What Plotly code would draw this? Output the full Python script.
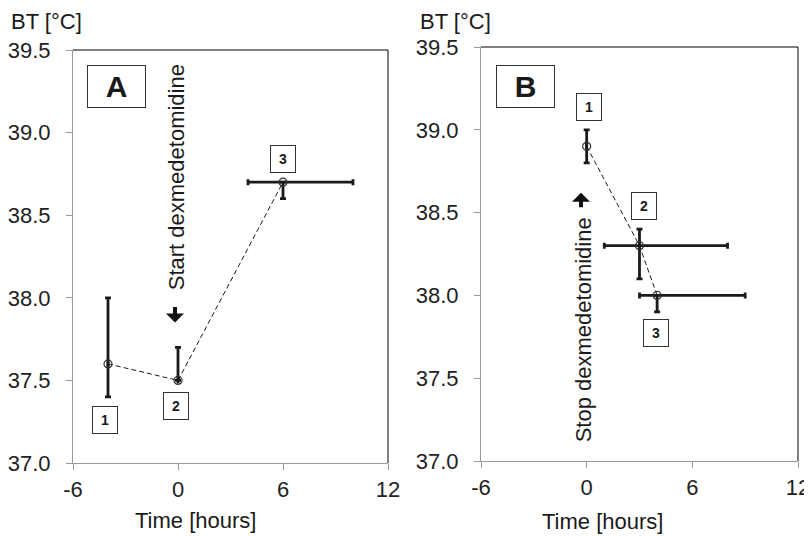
import plotly.graph_objects as go

# ---- data ----
a_time = [-4, 0, 6]
a_temp = [37.6, 37.5, 38.7]
a_temp_plus = [0.4, 0.2, 0.0]
a_temp_minus = [0.2, 0.0, 0.1]
a_time_plus = [0, 0, 4]
a_time_minus = [0, 0, 2]

b_time = [0, 3, 4]
b_temp = [38.9, 38.3, 38.0]
b_temp_plus = [0.1, 0.1, 0.0]
b_temp_minus = [0.1, 0.2, 0.1]
b_time_plus = [0, 5, 5]
b_time_minus = [0, 2, 1]

point_labels = ["1", "2", "3"]
x_ticks = [-6, 0, 6, 12]
y_ticks = [37.0, 37.5, 38.0, 38.5, 39.0, 39.5]

FONT = "Liberation Sans, Arial, sans-serif"
DARK = "#1a1a1a"
GRAY = "#9a9a9a"

fig = go.Figure()

def add_series(x, y, yp, ym, xp, xm, xa, ya):
    show_x = any(v > 0 for v in xp + xm)
    fig.add_trace(go.Scatter(
        x=x, y=y, mode="lines+markers",
        line=dict(color=DARK, width=1, dash="5px,3px"),
        marker=dict(symbol="circle-open", size=8, color="#333333", line=dict(width=1.2)),
        error_y=dict(type="data", symmetric=False, array=yp, arrayminus=ym,
                     color=DARK, thickness=2.8, width=3),
        error_x=dict(type="data", symmetric=False, array=xp, arrayminus=xm,
                     color=DARK, thickness=2.8, width=3, visible=show_x),
        xaxis=xa, yaxis=ya, showlegend=False, hoverinfo="skip"))

add_series(a_time, a_temp, a_temp_plus, a_temp_minus, a_time_plus, a_time_minus, "x", "y")
add_series(b_time, b_temp, b_temp_plus, b_temp_minus, b_time_plus, b_time_minus, "x2", "y2")

# page body has an 8px margin; lay out in window pixels and shift
OFF = 8
W, H = 812 - OFF, 536 - OFF
def px(v):
    return (v - OFF) / W
def py(v):
    return 1 - (v - OFF) / H

ax_common = dict(range=[-6, 12], tickvals=x_ticks, ticktext=[str(v) for v in x_ticks],
                 showgrid=False, zeroline=False, showline=True, linecolor=GRAY, linewidth=1,
                 ticks="outside", ticklen=6, tickcolor=GRAY, tickwidth=1, automargin=False,
                 tickfont=dict(family=FONT, size=22, color="#222"), ticklabelstandoff=1)
ay_common = dict(range=[37.0, 39.5], tickvals=y_ticks, tickformat=".1f",
                 showgrid=False, zeroline=False, showline=True, linecolor=GRAY, linewidth=1,
                 ticks="outside", ticklen=6, tickcolor=GRAY, tickwidth=1, automargin=False,
                 tickfont=dict(family=FONT, size=22, color="#222"), ticklabelstandoff=11)

fig.update_layout(
    width=W, height=H, margin=dict(l=0, r=0, t=0, b=0, autoexpand=False),
    paper_bgcolor="white", plot_bgcolor="white",
    xaxis=dict(domain=[px(73), px(388)], anchor="y", **ax_common),
    yaxis=dict(domain=[py(463), py(50)], anchor="x", **ay_common),
    xaxis2=dict(domain=[px(481), px(798)], anchor="y2", **ax_common),
    yaxis2=dict(domain=[py(461), py(47)], anchor="x2", **ay_common),
)

shapes = []
for xr, yr in [("x domain", "y domain"), ("x2 domain", "y2 domain")]:
    shapes.append(dict(type="line", xref=xr, yref=yr, x0=0, x1=1, y0=1, y1=1,
                       line=dict(color="black", width=1)))
    shapes.append(dict(type="line", xref=xr, yref=yr, x0=1, x1=1, y0=0, y1=1,
                       line=dict(color="black", width=1)))
fig.update_layout(shapes=shapes)

ann = []
def txt(text, x, y, xref="paper", yref="paper", size=22, **kw):
    d = dict(text=text, x=x, y=y, xref=xref, yref=yref, showarrow=False,
             xanchor="center", yanchor="middle",
             font=dict(family=FONT, size=size, color="#1a1a1a"))
    d.update(kw)
    ann.append(d)

# axis titles / y unit labels
txt("Time [hours]", px(195), py(520))
txt("Time [hours]", px(602), py(521))
txt("BT [°C]", px(9), py(21), xanchor="left")
txt("BT [°C]", px(418), py(21), xanchor="left")

# panel letters
for letter, xx, yy, xr, yr in [("<b>A</b>", -3.49, 39.28, "x", "y"), ("<b>B</b>", -3.5, 39.26, "x2", "y2")]:
    txt(letter, xx, yy, xref=xr, yref=yr, size=30, bordercolor="#333", borderwidth=1,
        borderpad=0, width=57, height=41, bgcolor="white")

# numbered boxes
a_lbl_pos = [(-4.2, 37.26), (-0.09, 37.345), (6.0, 38.843)]
b_lbl_pos = [(0.14, 39.14), (3.23, 38.54), (3.91, 37.77)]
for lbl, (xx, yy) in zip(point_labels, a_lbl_pos):
    txt("<b>%s</b>" % lbl, xx, yy, xref="x", yref="y", size=14, bordercolor="#333",
        borderwidth=1, borderpad=0, width=24, height=26, bgcolor="white")
for lbl, (xx, yy) in zip(point_labels, b_lbl_pos):
    txt("<b>%s</b>" % lbl, xx, yy, xref="x2", yref="y2", size=14, bordercolor="#333",
        borderwidth=1, borderpad=0, width=24, height=26, bgcolor="white")

# rotated texts
txt("Start dexmedetomidine", -0.11, 38.73, xref="x", yref="y", textangle=-90)
txt("Stop dexmedetomidine", -0.2, 37.79, xref="x2", yref="y2", textangle=-90)

# arrows
ann.append(dict(x=-0.17, y=37.85, xref="x", yref="y", ax=0, ay=-17, text="",
                showarrow=True, arrowhead=1, arrowwidth=4, arrowsize=0.75, arrowcolor="#111"))
ann.append(dict(x=-0.32, y=38.62, xref="x2", yref="y2", ax=0, ay=16, text="",
                showarrow=True, arrowhead=1, arrowwidth=4, arrowsize=0.75, arrowcolor="#111"))

fig.update_layout(annotations=ann)
fig.write_html("out.html")
